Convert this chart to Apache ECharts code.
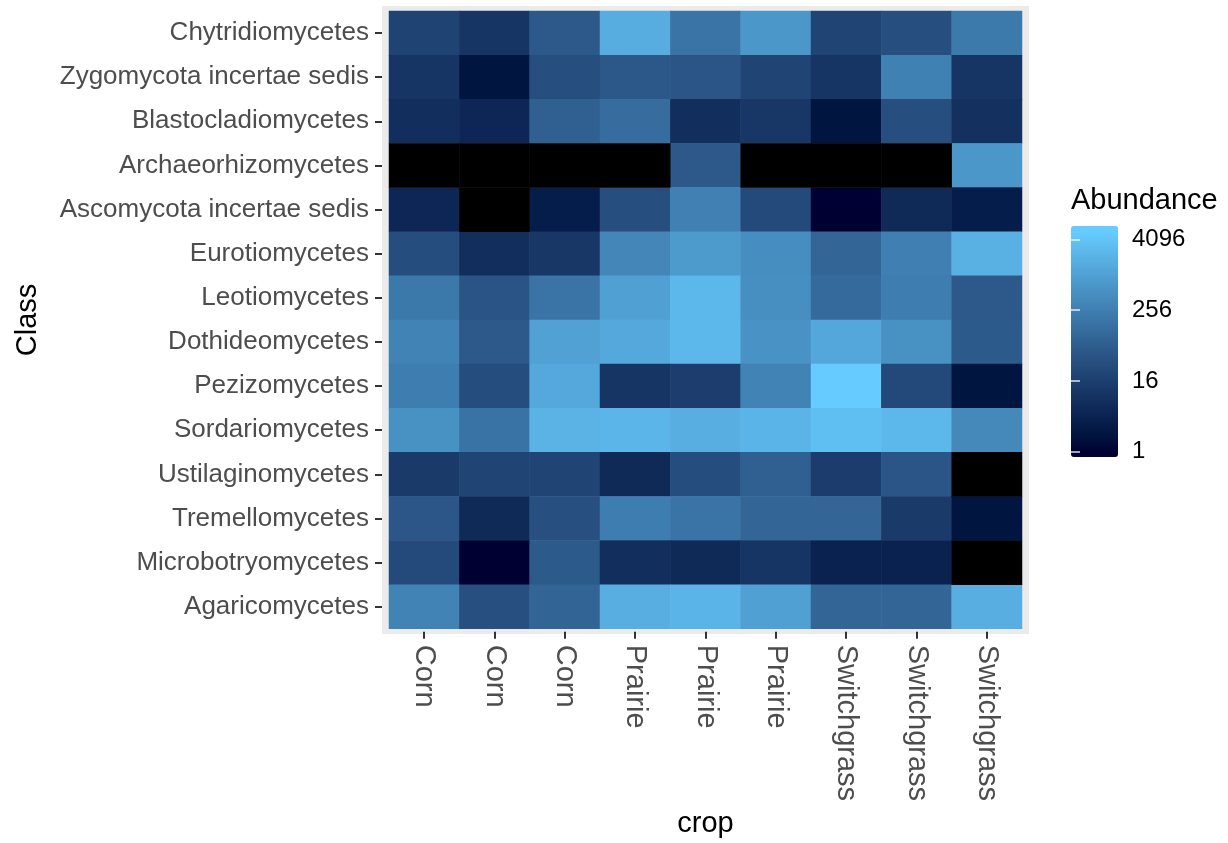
<!DOCTYPE html>
<html>
<head>
<meta charset="utf-8">
<title>Abundance heatmap</title>
<script src="https://cdn.jsdelivr.net/npm/echarts@6/dist/echarts.min.js"></script>
<style>
  html, body { margin: 0; padding: 0; background: #fff; }
  #chart { width: 1228px; height: 843px; }
</style>
</head>
<body>
<div id="chart"></div>
<script>
// crop of each sample (x axis, left to right)
const cropLabels = ['Corn', 'Corn', 'Corn', 'Prairie', 'Prairie', 'Prairie', 'Switchgrass', 'Switchgrass', 'Switchgrass'];

// fungal classes, top to bottom
const classLabels = [
  'Chytridiomycetes', 'Zygomycota incertae sedis', 'Blastocladiomycetes', 'Archaeorhizomycetes',
  'Ascomycota incertae sedis', 'Eurotiomycetes', 'Leotiomycetes', 'Dothideomycetes',
  'Pezizomycetes', 'Sordariomycetes', 'Ustilaginomycetes', 'Tremellomycetes',
  'Microbotryomycetes', 'Agaricomycetes'
];

// abundance per class (rows follow classLabels), 0 = absent (drawn black)
const chytridiomycetes = [19, 10, 53, 1640, 163, 700, 21, 33, 215];
const zygomycota = [10, 2, 32, 50, 43, 21, 10, 275, 10];
const blastocladiomycetes = [7, 5, 73, 117, 7, 11, 2, 32, 8];
const archaeorhizomycetes = [0, 0, 0, 0, 51, 0, 0, 0, 690];
const ascomycotaIS = [5, 0, 3, 33, 265, 27, 1, 6, 3];
const eurotiomycetes = [30, 7, 11, 355, 780, 480, 91, 260, 1870];
const leotiomycetes = [205, 42, 163, 1010, 2610, 490, 108, 240, 53];
const dothideomycetes = [300, 53, 1030, 1370, 2610, 565, 1290, 540, 55];
const pezizomycetes = [240, 31, 1370, 10, 15, 300, 5500, 25, 2];
const sordariomycetes = [540, 152, 2030, 2280, 1720, 2200, 3380, 2610, 395];
const ustilaginomycetes = [13, 20, 20, 6, 31, 73, 14, 44, 0];
const tremellomycetes = [46, 6, 35, 240, 163, 91, 91, 13, 2];
const microbotryomycetes = [27, 1, 55, 7, 6, 10, 4, 4, 0];
const agaricomycetes = [310, 35, 86, 1720, 2200, 1010, 91, 91, 1720];

// legend breaks
const legendBreaks = [1, 16, 256, 4096];

const rows = [
  chytridiomycetes, zygomycota, blastocladiomycetes, archaeorhizomycetes,
  ascomycotaIS, eurotiomycetes, leotiomycetes, dothideomycetes,
  pezizomycetes, sordariomycetes, ustilaginomycetes, tremellomycetes,
  microbotryomycetes, agaricomycetes
];

const LIMIT_MAX = Math.log2(5500); // scale limits on log2
const BAR_MIN = -0.3, BAR_MAX = 12.75; // colourbar incl. half bins

// --- Lab gradient like ggplot's scale_fill_gradient ---
function toLin(c) { c /= 255; return c <= 0.04045 ? c / 12.92 : Math.pow((c + 0.055) / 1.055, 2.4); }
function fromLin(c) { c = c <= 0.0031308 ? 12.92 * c : 1.055 * Math.pow(c, 1 / 2.4) - 0.055; return Math.max(0, Math.min(255, Math.round(c * 255))); }
const WX = 0.95047, WY = 1, WZ = 1.08883;
function f(t) { return t > 0.008856 ? Math.cbrt(t) : 7.787 * t + 16 / 116; }
function finv(t) { return t > 0.206893 ? t * t * t : (t - 16 / 116) / 7.787; }
function hexToLab(hex) {
  const r = toLin(parseInt(hex.slice(1, 3), 16));
  const g = toLin(parseInt(hex.slice(3, 5), 16));
  const b = toLin(parseInt(hex.slice(5, 7), 16));
  const x = (0.4124 * r + 0.3576 * g + 0.1805 * b) / WX;
  const y = (0.2126 * r + 0.7152 * g + 0.0722 * b) / WY;
  const z = (0.0193 * r + 0.1192 * g + 0.9505 * b) / WZ;
  return [116 * f(y) - 16, 500 * (f(x) - f(y)), 200 * (f(y) - f(z))];
}
function labToHex(lab) {
  const fy = (lab[0] + 16) / 116, fx = fy + lab[1] / 500, fz = fy - lab[2] / 200;
  const x = finv(fx) * WX, y = finv(fy) * WY, z = finv(fz) * WZ;
  const r = 3.2406 * x - 1.5372 * y - 0.4986 * z;
  const g = -0.9689 * x + 1.8758 * y + 0.0415 * z;
  const b = 0.0557 * x - 0.2040 * y + 1.0570 * z;
  return '#' + [r, g, b].map(c => fromLin(c).toString(16).padStart(2, '0')).join('');
}
const lowLab = hexToLab('#000033'), highLab = hexToLab('#66CCFF');
const rampColors = [];
for (let i = 0; i <= 40; i++) {
  const x = BAR_MIN + (BAR_MAX - BAR_MIN) * i / 40;
  const t = Math.max(0, Math.min(1, x / LIMIT_MAX));
  rampColors.push(labToHex(lowLab.map((v, k) => v + (highLab[k] - v) * t)));
}

// present cells go through the colour scale, absent ones (NA on log scale) are black
const heatData = [];
const naData = [];
rows.forEach((row, yi) => {
  row.forEach((v, xi) => {
    if (v > 0) heatData.push([xi, yi, Math.log2(v)]);
    else naData.push([xi, yi, 0]);
  });
});

const chart = echarts.init(document.getElementById('chart'), null, { renderer: 'canvas' });
const tickLine = { color: '#333333', width: 2 };
const hiddenLine = { show: true, lineStyle: { color: 'rgba(0,0,0,0)' } };

const option = {
  backgroundColor: '#ffffff',
  animation: false,
  textStyle: { fontFamily: 'Liberation Sans, Arial, sans-serif' },
  title: {
    text: 'Abundance',
    left: 1071,
    top: 186,
    padding: 0,
    textStyle: { fontSize: 29, fontWeight: 'normal', color: '#000000' }
  },
  graphic: [{
    type: 'rect',
    z: -10,
    shape: { x: 382, y: 6, width: 647, height: 628 },
    style: { fill: '#EBEBEB' }
  }],
  grid: [
    { left: 389, top: 11, width: 633, height: 620 },
    { left: 1071, top: 226, width: 47, height: 231 }
  ],
  xAxis: [
    {
      type: 'category',
      gridIndex: 0,
      data: cropLabels,
      offset: 3,
      axisLine: hiddenLine,
      axisTick: { show: true, length: 7, alignWithLabel: true, lineStyle: tickLine },
      axisLabel: { rotate: -90, interval: 0, fontSize: 29, color: '#4D4D4D', margin: 13 },
      splitLine: { show: false },
      name: 'crop',
      nameLocation: 'middle',
      nameGap: 177,
      nameTextStyle: { fontSize: 29, color: '#000000' }
    },
    { type: 'value', gridIndex: 1, show: false, min: 0, max: 1 }
  ],
  yAxis: [
    {
      type: 'category',
      gridIndex: 0,
      data: classLabels,
      inverse: true,
      offset: 7,
      axisLine: hiddenLine,
      axisTick: { show: true, length: 7, alignWithLabel: true, lineStyle: tickLine },
      axisLabel: { interval: 0, fontSize: 26, color: '#4D4D4D', margin: 13 },
      splitLine: { show: false },
      name: 'Class',
      nameLocation: 'middle',
      nameGap: 340,
      nameTextStyle: { fontSize: 29, color: '#000000' }
    },
    {
      type: 'value',
      gridIndex: 1,
      position: 'right',
      min: BAR_MIN,
      max: BAR_MAX,
      z: 10,
      axisLine: { show: false },
      splitLine: { show: false },
      axisTick: {
        show: true, inside: true, length: 9,
        customValues: legendBreaks.map(Math.log2),
        lineStyle: { color: 'rgba(255,255,255,0.85)', width: 1.5 }
      },
      axisLabel: {
        margin: 14, fontSize: 24, color: '#000000',
        customValues: legendBreaks.map(Math.log2),
        formatter: v => String(Math.round(Math.pow(2, v)))
      }
    },
    {
      type: 'value',
      gridIndex: 1,
      position: 'left',
      min: BAR_MIN,
      max: BAR_MAX,
      z: 10,
      axisLine: { show: false },
      splitLine: { show: false },
      axisLabel: { show: false },
      axisTick: {
        show: true, inside: true, length: 9,
        customValues: legendBreaks.map(Math.log2),
        lineStyle: { color: 'rgba(255,255,255,0.85)', width: 1.5 }
      }
    }
  ],
  visualMap: {
    type: 'continuous',
    seriesIndex: 0,
    dimension: 2,
    min: BAR_MIN,
    max: BAR_MAX,
    calculable: false,
    hoverLink: false,
    orient: 'vertical',
    left: 1071,
    top: 226,
    padding: 0,
    itemWidth: 47,
    itemHeight: 231,
    text: null,
    showLabel: false,
    inRange: { color: rampColors }
  },
  series: [
    {
      type: 'heatmap',
      xAxisIndex: 0,
      yAxisIndex: 0,
      data: heatData,
      itemStyle: { borderWidth: 0 },
      emphasis: { disabled: true },
      progressive: 0
    },
    {
      type: 'heatmap',
      xAxisIndex: 0,
      yAxisIndex: 0,
      data: naData,
      itemStyle: { color: '#000000', borderWidth: 0 },
      emphasis: { disabled: true },
      progressive: 0
    }
  ]
};

chart.setOption(option);
</script>
</body>
</html>
